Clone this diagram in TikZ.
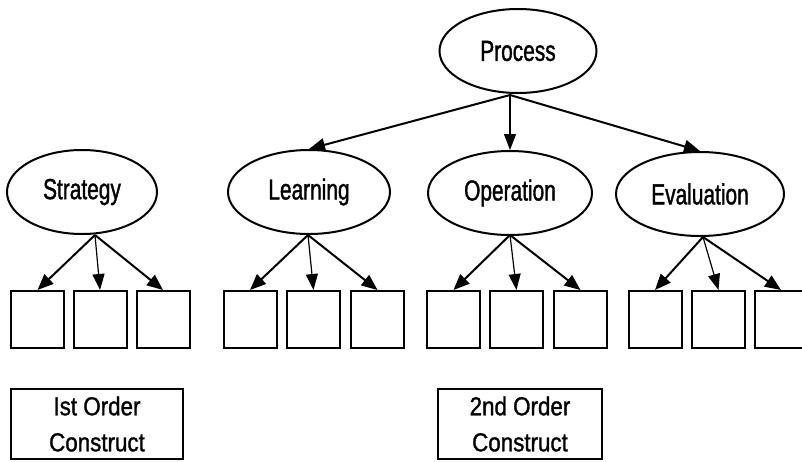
\documentclass[tikz,border=0pt]{standalone}
\usepackage{fontspec}
\setmainfont{Liberation Sans}
\newfontfamily\latentfont[FakeStretch=0.72,FakeBold=1.2]{Liberation Sans}
\newfontfamily\legendfont[FakeStretch=0.86,FakeBold=1.2]{Liberation Sans}
\usetikzlibrary{shapes.geometric,arrows.meta}

\begin{document}
\begin{tikzpicture}[x=1pt,y=-1pt,
  latent/.style={ellipse, draw, line width=2pt, inner sep=0pt,
    minimum height=84pt, font=\latentfont\fontsize{29}{32}\selectfont},
  indicator/.style={rectangle, draw, line width=2pt,
    minimum width=53pt, minimum height=57pt, inner sep=0pt},
  legendbox/.style={rectangle, draw, line width=1.5pt, align=center,
    inner sep=0pt, minimum height=70pt,
    font=\legendfont\fontsize{26}{36}\selectfont},
  link/.style={line width=2pt, -{Triangle[length=16pt,width=13pt]}},
  thinlink/.style={line width=1.2pt, -{Triangle[length=16pt,width=12pt]}},
]
\useasboundingbox (0,0) rectangle (802,461);

% second-order construct
\node[latent, minimum width=157pt] (proc) at (518,51) {Process};

% first-order constructs
\node[latent, minimum width=150pt] (strat) at (82,192)  {Strategy};
\node[latent, minimum width=162pt] (learn) at (309,192) {Learning};
\node[latent, minimum width=164pt] (oper)  at (510,193) {Operation};
\node[latent, minimum width=168pt] (eval)  at (700,194) {Evaluation};

% indicators
\foreach \n/\x in {s1/37.5, s2/100, s3/163,
                   l1/250, l2/313.5, l3/377.5,
                   o1/453.5, o2/516.5, o3/580.5,
                   e1/655, e2/718.5, e3/781}
  \node[indicator] (\n) at (\x,319.5) {};

% junction points below each ellipse
\coordinate (pj) at (510,95);
\coordinate (sj) at (95,235);
\coordinate (lj) at (308,235);
\coordinate (oj) at (510,235);
\coordinate (ej) at (703,237);

% second-order paths
\draw[link] (pj) -- (learn.north);
\draw[thinlink] (pj) -- (oper.north);
\draw[link] (pj) -- (eval.north);

% first-order loadings
\foreach \j/\g in {sj/s, lj/l, oj/o, ej/e} {
  \draw[link] (\j) -- (\g1.north);
  \draw[thinlink] (\j) -- (\g2.north);
  \draw[link] (\j) -- (\g3.north);
}

% legend boxes
\node[legendbox, minimum width=172pt] (first) at (97,424)
  {Ist Order\\Construct};
\node[legendbox, minimum width=164pt] (second) at (520,424)
  {2nd Order\\Construct};
\end{tikzpicture}
\end{document}
